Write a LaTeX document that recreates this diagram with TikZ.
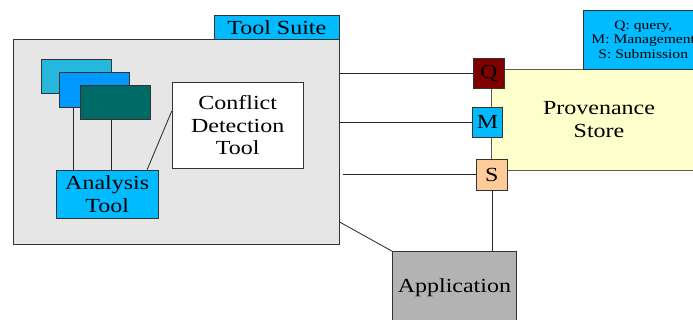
\documentclass[tikz,border=0pt]{standalone}
\usepackage{fontspec}
\setmainfont{Liberation Serif}[FakeStretch=1.2]
\usepackage{tikz}

\definecolor{suitegray}{RGB}{230,230,230}
\definecolor{skyblue}{RGB}{0,187,255}
\definecolor{winA}{RGB}{38,183,221}
\definecolor{winB}{RGB}{0,153,255}
\definecolor{winC}{RGB}{0,107,102}
\definecolor{qred}{RGB}{128,0,0}
\definecolor{sorange}{RGB}{255,204,153}
\definecolor{storeyellow}{RGB}{255,255,204}
\definecolor{appgray}{RGB}{179,179,179}

\tikzset{
  box/.style={draw=black!80,line width=0.8pt,inner sep=0pt,align=center,
    font=\fontsize{20}{22.5}\selectfont},
  port/.style={box,minimum width=30.5pt,minimum height=30.5pt},
  wire/.style={line width=0.8pt,black!85}
}

\begin{document}
\begin{tikzpicture}[x=1pt,y=-1pt]
\clip (0,0) rectangle (693,320);

% tool suite and the tools in it
\node[box,fill=suitegray,minimum width=326pt,minimum height=205pt] (suite) at (176.3,141.8) {};
\node[box,fill=skyblue,minimum width=125pt,minimum height=24.3pt] (suitetab) at (276.8,27.2) {Tool Suite};
\node[box,fill=winA,minimum width=70.3pt,minimum height=34pt] (winA) at (76.2,76.3) {};
\node[box,fill=winB,minimum width=70pt,minimum height=34.6pt] (winB) at (94.3,90) {};
\node[box,fill=winC,minimum width=70.4pt,minimum height=34pt] (winC) at (115.5,102.3) {};
\node[box,fill=skyblue,minimum width=102.3pt,minimum height=48.3pt] (analysis) at (107.2,194.2) {Analysis\\Tool};
\node[box,fill=white,minimum width=131.3pt,minimum height=86pt] (conflict) at (237.7,125.3) {Conflict\\Detection\\Tool};

\draw[wire] ([xshift=-21pt]winB.south) -- ([xshift=-21pt]winB.south |- analysis.north);
\draw[wire] ([xshift=-4.5pt]winC.south) -- ([xshift=-4.5pt]winC.south |- analysis.north);
\draw[wire] ([xshift=-11.6pt]analysis.north east) -- ([yshift=14pt]conflict.west);

% provenance store with its three ports
\node[box,draw=black!65,fill=storeyellow,minimum width=214.6pt,minimum height=101pt] (store) at (599,119.5) {Provenance\\Store};
\node[box,fill=skyblue,minimum width=119.7pt,minimum height=58.7pt,
  font=\fontsize{13}{14.5}\selectfont] (legend) at (643.2,39.7) {Q: query,\\M: Management\\S: Submission};

\node[port,fill=qred] (Q) at (488.7,73.5) {Q};
\node[port,fill=skyblue] (M) at (487.5,122.4) {M};
\node[port,fill=sorange] (S) at (491.9,174.8) {S};

\node[box,fill=appgray,minimum width=123.3pt,minimum height=71.3pt] (app) at (454.4,287.4) {Application};

\draw[wire] (suite.east |- Q.west) -- (Q.west);
\draw[wire] (suite.east |- M.west) -- (M.west);
\draw[wire] ([xshift=3.4pt]suite.east |- S.west) -- (S.west);
\draw[wire] ([yshift=22.6pt]suite.south east) -- (app.north west);
\draw[wire] (S.south) -- (S.south |- app.north);
\end{tikzpicture}
\end{document}
